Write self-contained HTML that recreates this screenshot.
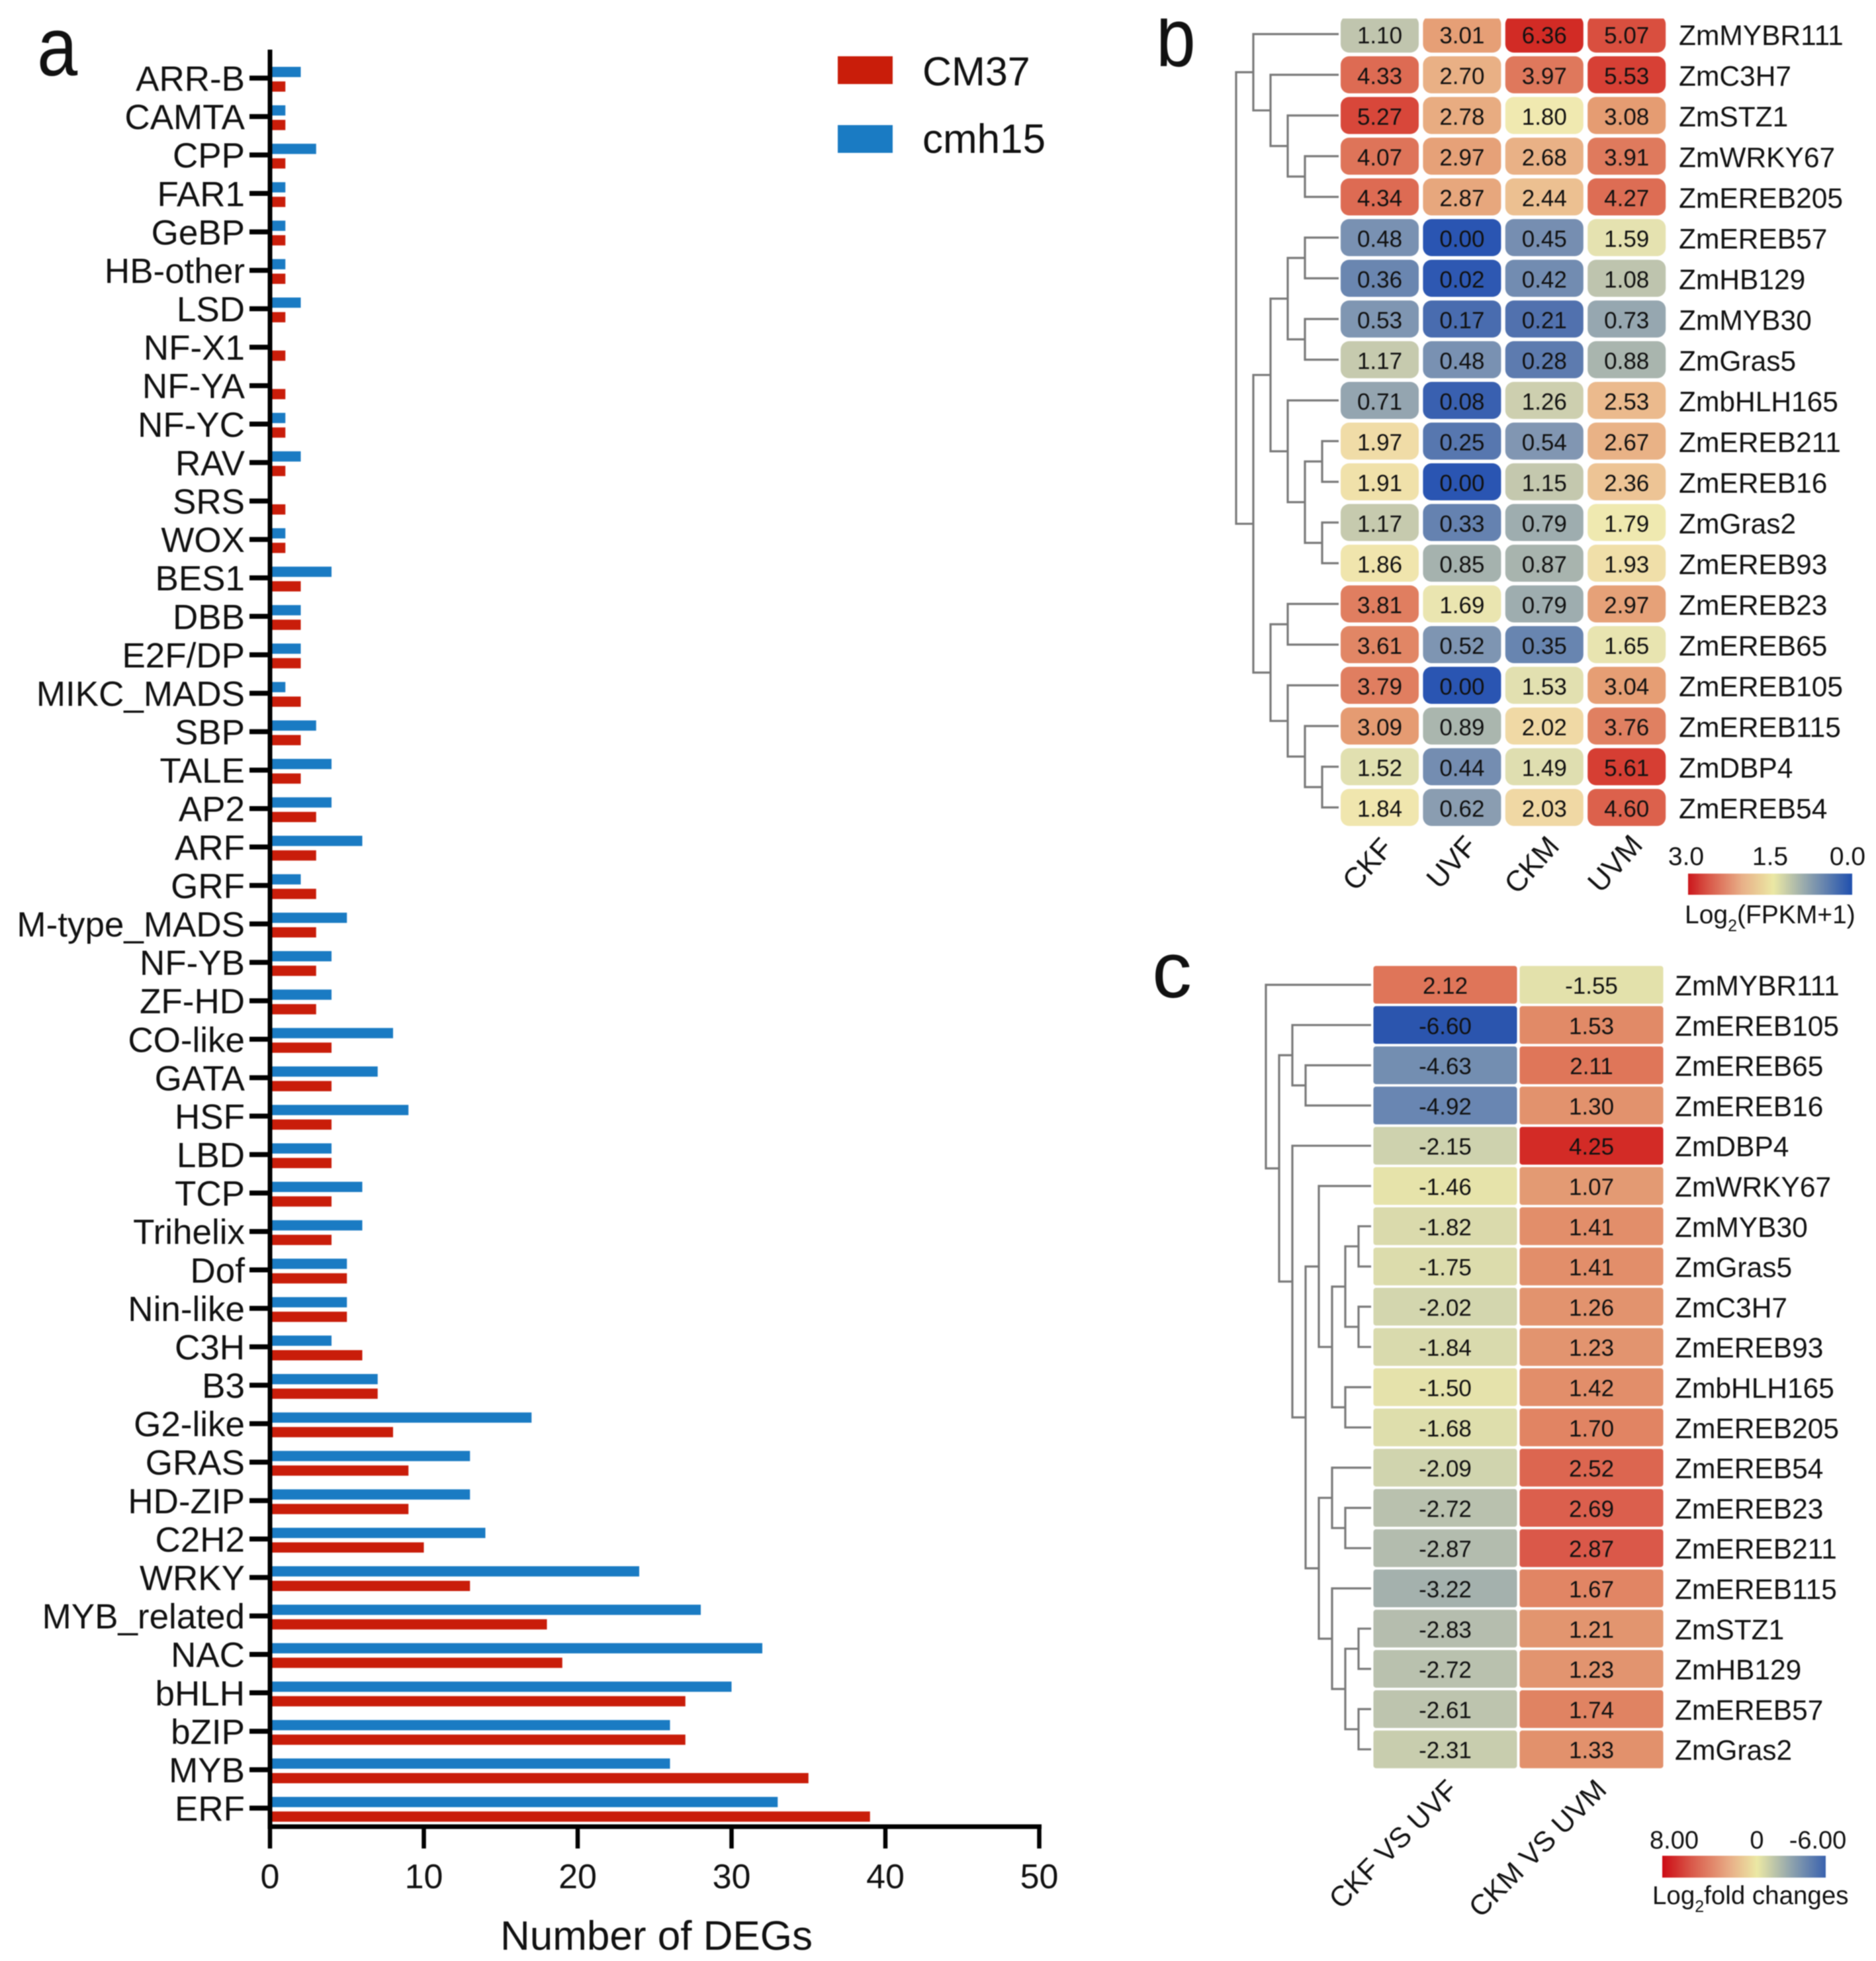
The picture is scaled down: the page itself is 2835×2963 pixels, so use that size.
<!DOCTYPE html>
<html lang="en">
<head>
<meta charset="utf-8">
<title>DEG transcription factor families and expression heatmaps</title>
<style>
html,body{margin:0;padding:0;background:#fff;width:2835px;height:2963px;overflow:hidden}
svg{display:block;filter:blur(0.7px)}
text{font-family:"Liberation Sans",Arial,sans-serif;fill:#111}
</style>
</head>
<body>
<svg id="fig" xmlns="http://www.w3.org/2000/svg" width="2835" height="2963" viewBox="0 0 2835 2963">
  <defs>
    <linearGradient id="gradB" x1="0" x2="1" y1="0" y2="0">
      <stop offset="0" stop-color="#cb171c"/><stop offset="0.13" stop-color="#d9594a"/>
      <stop offset="0.33" stop-color="#e8b088"/><stop offset="0.52" stop-color="#ebe8a4"/>
      <stop offset="0.72" stop-color="#93a6ad"/><stop offset="1" stop-color="#1f4fae"/>
    </linearGradient>
    <linearGradient id="gradC" x1="0" x2="1" y1="0" y2="0">
      <stop offset="0" stop-color="#cc0a14"/><stop offset="0.18" stop-color="#d9594a"/>
      <stop offset="0.42" stop-color="#e8b088"/><stop offset="0.58" stop-color="#ebe8a4"/>
      <stop offset="0.78" stop-color="#93a6ad"/><stop offset="1" stop-color="#3a62ae"/>
    </linearGradient>
  </defs>
  <g id="panelA"></g>
  <g id="panelB"></g>
  <g id="panelC"></g>

  <text transform="translate(56 114) scale(0.88 1)" font-size="125">a</text>
  <text transform="translate(1747 100) scale(0.86 1)" font-size="125">b</text>
  <text x="1741" y="1507" font-size="120">c</text>
  <rect x="1730" y="0" width="810" height="28" fill="#fff"/>

  <rect x="1266" y="85" width="83" height="42" fill="#c91d0a"/>
  <text x="1394" y="129" font-size="61">CM37</text>
  <rect x="1266" y="189" width="83" height="42" fill="#1a7bc3"/>
  <text x="1394" y="231" font-size="62">cmh15</text>
  <text x="992" y="2946" font-size="62" text-anchor="middle">Number of DEGs</text>

  <text transform="translate(2067 1306) rotate(-48)" font-size="44" text-anchor="middle" dominant-baseline="central">CKF</text>
  <text transform="translate(2194 1303) rotate(-48)" font-size="44" text-anchor="middle" dominant-baseline="central">UVF</text>
  <text transform="translate(2315 1307) rotate(-48)" font-size="44" text-anchor="middle" dominant-baseline="central">CKM</text>
  <text transform="translate(2441 1305) rotate(-48)" font-size="44" text-anchor="middle" dominant-baseline="central">UVM</text>

  <text x="2548" y="1307" font-size="39" text-anchor="middle">3.0</text>
  <text x="2675" y="1307" font-size="39" text-anchor="middle">1.5</text>
  <text x="2792" y="1307" font-size="39" text-anchor="middle">0.0</text>
  <rect x="2551" y="1320" width="248" height="32" fill="url(#gradB)"/>
  <text x="2546" y="1395" font-size="39">Log<tspan font-size="25" dy="12">2</tspan><tspan dy="-12">(FPKM+1)</tspan></text>

  <text transform="translate(2106 2787) rotate(-45)" font-size="43" text-anchor="middle" dominant-baseline="central">CKF VS UVF</text>
  <text transform="translate(2324 2793) rotate(-45)" font-size="43" text-anchor="middle" dominant-baseline="central">CKM VS UVM</text>

  <text x="2530" y="2793" font-size="38" text-anchor="middle">8.00</text>
  <text x="2655" y="2793" font-size="38" text-anchor="middle">0</text>
  <text x="2747" y="2793" font-size="38" text-anchor="middle">-6.00</text>
  <rect x="2512" y="2804" width="247" height="33" fill="url(#gradC)"/>
  <text x="2497" y="2877" font-size="38.5">Log<tspan font-size="25" dy="12">2</tspan><tspan dy="-12">fold changes</tspan></text>
</svg>

<script>
/* ---------- Panel a: data ---------- */
const categories = ["ARR-B","CAMTA","CPP","FAR1","GeBP","HB-other","LSD","NF-X1","NF-YA","NF-YC","RAV","SRS","WOX","BES1","DBB","E2F/DP","MIKC_MADS","SBP","TALE","AP2","ARF","GRF","M-type_MADS","NF-YB","ZF-HD","CO-like","GATA","HSF","LBD","TCP","Trihelix","Dof","Nin-like","C3H","B3","G2-like","GRAS","HD-ZIP","C2H2","WRKY","MYB_related","NAC","bHLH","bZIP","MYB","ERF"];
const cmh15Values = [2,1,3,1,1,1,2,0,0,1,2,0,1,4,2,2,1,3,4,4,6,2,5,4,4,8,7,9,4,6,6,5,5,4,7,17,13,13,14,24,28,32,30,26,26,33];
const cm37Values = [1,1,1,1,1,1,1,1,1,1,1,1,1,2,2,2,2,2,2,3,3,3,3,3,3,4,4,4,4,4,4,5,5,6,7,8,9,9,10,13,18,19,27,27,35,39];
const xTickValues = [0,10,20,30,40,50];

/* ---------- Panel b: data ---------- */
const genesB = ["ZmMYBR111","ZmC3H7","ZmSTZ1","ZmWRKY67","ZmEREB205","ZmEREB57","ZmHB129","ZmMYB30","ZmGras5","ZmbHLH165","ZmEREB211","ZmEREB16","ZmGras2","ZmEREB93","ZmEREB23","ZmEREB65","ZmEREB105","ZmEREB115","ZmDBP4","ZmEREB54"];
const ckfValues = [1.10,4.33,5.27,4.07,4.34,0.48,0.36,0.53,1.17,0.71,1.97,1.91,1.17,1.86,3.81,3.61,3.79,3.09,1.52,1.84];
const uvfValues = [3.01,2.70,2.78,2.97,2.87,0.00,0.02,0.17,0.48,0.08,0.25,0.00,0.33,0.85,1.69,0.52,0.00,0.89,0.44,0.62];
const ckmValues = [6.36,3.97,1.80,2.68,2.44,0.45,0.42,0.21,0.28,1.26,0.54,1.15,0.79,0.87,0.79,0.35,1.53,2.02,1.49,2.03];
const uvmValues = [5.07,5.53,3.08,3.91,4.27,1.59,1.08,0.73,0.88,2.53,2.67,2.36,1.79,1.93,2.97,1.65,3.04,3.76,5.61,4.60];
/* merge tree: [depth, childA, childB]; plain numbers are row indices */
const treeB = [0,[1,0,[2,1,[3,2,[4,3,4]]]],[1,[2,[3,[4,5,6],[4,7,8]],[3,9,[4,[5,10,11],[5,12,13]]]],[2,[3,14,15],[3,16,[4,17,[5,18,19]]]]]];

/* ---------- Panel c: data ---------- */
const genesC = ["ZmMYBR111","ZmEREB105","ZmEREB65","ZmEREB16","ZmDBP4","ZmWRKY67","ZmMYB30","ZmGras5","ZmC3H7","ZmEREB93","ZmbHLH165","ZmEREB205","ZmEREB54","ZmEREB23","ZmEREB211","ZmEREB115","ZmSTZ1","ZmHB129","ZmEREB57","ZmGras2"];
const ckfVsUvfValues = [2.12,-6.60,-4.63,-4.92,-2.15,-1.46,-1.82,-1.75,-2.02,-1.84,-1.50,-1.68,-2.09,-2.72,-2.87,-3.22,-2.83,-2.72,-2.61,-2.31];
const ckmVsUvmValues = [-1.55,1.53,2.11,1.30,4.25,1.07,1.41,1.41,1.26,1.23,1.42,1.70,2.52,2.69,2.87,1.67,1.21,1.23,1.74,1.33];
const treeC = [0,0,[1,[2,1,[3,2,3]],[2,4,[3,[4,5,[5,[6,[7,6,7],[7,8,9]],[6,10,11]]],[4,[5,12,[6,13,14]],[5,15,[6,[7,16,17],[7,18,19]]]]]]]];

/* ---------- Shared helpers ---------- */
const SVGNS = "http://www.w3.org/2000/svg";
function add(parent, tag, attrs, txt) {
  const node = document.createElementNS(SVGNS, tag);
  for (const k in attrs) node.setAttribute(k, attrs[k]);
  if (txt !== undefined) node.textContent = txt;
  parent.appendChild(node);
  return node;
}
function slug(s) { return s.toLowerCase().replace(/[^a-z0-9]+/g, "-"); }
function hex(c) { return [1,3,5].map(i => parseInt(c.substr(i,2),16)); }
function ramp(stops, v) {
  if (v <= stops[0][0]) return stops[0][1];
  for (let i = 1; i < stops.length; i++) {
    if (v <= stops[i][0]) {
      const t = (v - stops[i-1][0]) / (stops[i][0] - stops[i-1][0]);
      const a = hex(stops[i-1][1]), b = hex(stops[i][1]);
      return "rgb(" + a.map((x, j) => Math.round(x + (b[j]-x)*t)).join(",") + ")";
    }
  }
  return stops[stops.length-1][1];
}

/* ---------- Panel a: drawing ---------- */
const panelA = document.getElementById("panelA");
const xScale = v => 408 + v * 23.25;
const yScale = i => 118 + i * 58.09;

categories.forEach((name, i) => {
  const y = yScale(i);
  const blue = add(panelA, "rect", {x: xScale(0), y: y - 17, width: xScale(cmh15Values[i]) - xScale(0), height: 15.5, fill: "#1a7bc3"});
  
  
  const red = add(panelA, "rect", {x: xScale(0), y: y + 5, width: xScale(cm37Values[i]) - xScale(0), height: 15.5, fill: "#c91d0a"});
  
  
  const tick = add(panelA, "line", {x1: 377, x2: 408, y1: y, y2: y, stroke: "#000", "stroke-width": 7.5});
  
  
  const label = add(panelA, "text", {x: 370, y: y + 19, "font-size": 53, "text-anchor": "end"}, name);
  
  
});

const yAxis = add(panelA, "line", {x1: 408, x2: 408, y1: 75, y2: 2763, stroke: "#000", "stroke-width": 7});


const xAxis = add(panelA, "line", {x1: 404.5, x2: 1574, y1: 2760, y2: 2760, stroke: "#000", "stroke-width": 7});



xTickValues.forEach(v => {
  const tick = add(panelA, "line", {x1: xScale(v), x2: xScale(v), y1: 2760, y2: 2793, stroke: "#000", "stroke-width": 6.5});
  
  
  const label = add(panelA, "text", {x: xScale(v), y: 2853, "font-size": 52, "text-anchor": "middle"}, String(v));
  
  
});

/* ---------- Dendrogram ---------- */
function drawTree(parent, node, rowY, depthX, leafX, width) {
  if (typeof node === "number") return {x: leafX, y: rowY(node)};
  const a = drawTree(parent, node[1], rowY, depthX, leafX, width);
  const b = drawTree(parent, node[2], rowY, depthX, leafX, width);
  const x = depthX(node[0]);
  const branch = add(parent, "path", {d: "M" + a.x + " " + a.y + "H" + x + "V" + b.y + "H" + b.x, fill: "none", stroke: "#7a7a7a", "stroke-width": width});
  
  
  return {x: x, y: (a.y + b.y) / 2};
}

/* ---------- Panel b: drawing ---------- */
const panelB = document.getElementById("panelB");
const stopsB = [[0,"#2a55b2"],[0.2,"#4f70ae"],[0.36,"#6a86b0"],[0.5,"#7c93b2"],[0.71,"#94a5b0"],[0.88,"#a9b5ae"],[1.1,"#c0c5ae"],[1.5,"#e0dfb0"],[1.8,"#f0e9b0"],[2.03,"#f0d8a4"],[2.7,"#e9b085"],[3.09,"#e59b72"],[3.8,"#e07e60"],[4.33,"#dd6b53"],[5.27,"#d8473a"],[6.36,"#d22b25"]];
const rowYB = r => 51.5 + r * 61.5;
const colXB = c => 2026 + c * 124.4;
const columnsB = [ckfValues, uvfValues, ckmValues, uvmValues];

drawTree(panelB, treeB, rowYB, d => 1868 + d * 26, 2023, 3.2);
genesB.forEach((gene, r) => {
  columnsB.forEach((col, c) => {
    const cell = add(panelB, "rect", {x: colXB(c), y: rowYB(r) - 28, width: 118, height: 56, rx: 13, ry: 13, fill: ramp(stopsB, col[r])});
    
    
    const val = add(panelB, "text", {x: colXB(c) + 59, y: rowYB(r) + 14, "font-size": 35, "text-anchor": "middle"}, col[r].toFixed(2));
    
    
  });
  const label = add(panelB, "text", {x: 2537, y: rowYB(r) + 16.5, "font-size": 42.5}, gene);
  
  
});

/* ---------- Panel c: drawing ---------- */
const panelC = document.getElementById("panelC");
const stopsC = [[-6.6,"#2b55ae"],[-4.9,"#6a87b2"],[-3.2,"#a5b2ad"],[-2.8,"#b6beae"],[-2.1,"#d0d4ae"],[-1.4,"#e8e4aa"],[1.07,"#e39a73"],[2.1,"#df7659"],[2.87,"#da5849"],[4.25,"#d32b26"]];
const rowYC = r => 1488 + r * 60.8;
const colXC = c => 2075.5 + c * 221;
const columnsC = [ckfVsUvfValues, ckmVsUvmValues];

drawTree(panelC, treeC, rowYC, d => 1913 + d * 20, 2072, 3.2);
genesC.forEach((gene, r) => {
  columnsC.forEach((col, c) => {
    const cell = add(panelC, "rect", {x: colXC(c), y: rowYC(r) - 28.5, width: 217, height: 57, rx: 4, ry: 4, fill: ramp(stopsC, col[r])});
    
    
    const val = add(panelC, "text", {x: colXC(c) + 108.5, y: rowYC(r) + 13.5, "font-size": 35, "text-anchor": "middle"}, col[r].toFixed(2));
    
    
  });
  const label = add(panelC, "text", {x: 2531, y: rowYC(r) + 16, "font-size": 42.5}, gene);
  
  
});
</script>
</body>
</html>
